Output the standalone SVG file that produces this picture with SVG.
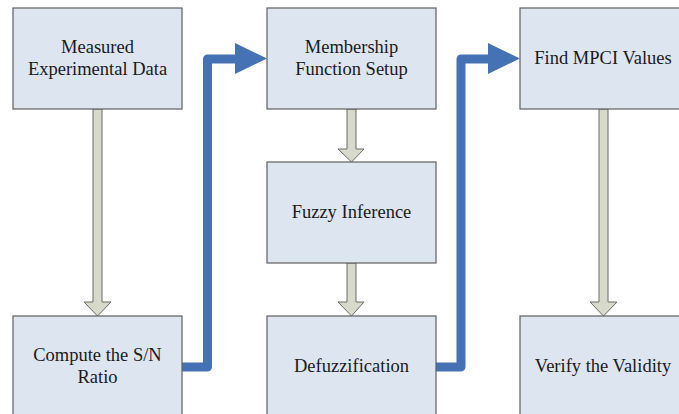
<svg xmlns="http://www.w3.org/2000/svg" width="679" height="414" viewBox="0 0 679 414">
<style>
.box{fill:#dde5f1;stroke:#5f5f5f;stroke-width:1.2}
.t{font-family:"Liberation Serif","Times New Roman",serif;font-size:18.5px;fill:#1a1a1a;text-anchor:middle}
.ga{fill:#d7dacb;stroke:#6a6a6a;stroke-width:1}
.bl{fill:none;stroke:#4572b4;stroke-width:9;stroke-linecap:round;stroke-linejoin:round}
.bh{fill:#4572b4}
</style>
<rect width="679" height="414" fill="#fff"/>
<g id="connectors">
<polygon class="ga" points="93,109 102,109 102,302 111,302 97.5,316 84,302 93,302"/>
<polygon class="ga" points="347,109 356,109 356,149 364,149 351.5,162 338,149 347,149"/>
<polygon class="ga" points="347,263 356,263 356,302 364,302 351.5,316 338,302 347,302"/>
<polygon class="ga" points="599,109 608,109 608,302 617,302 603.5,316 590,302 599,302"/>
<path class="bl" d="M183,367 H207.5 V59 H236"/>
<polygon class="bh" points="235,43 267,58.5 235,74"/>
<path class="bl" d="M437,367 H461 V59 H489"/>
<polygon class="bh" points="488,43 520,58.5 488,74"/>
</g>
<g id="n1"><rect class="box" x="13" y="8" width="169" height="101"/><text class="t" x="97.5" y="53">Measured</text><text class="t" x="97.5" y="75">Experimental Data</text></g>
<g id="n2"><rect class="box" x="267" y="8" width="169" height="101"/><text class="t" x="351.5" y="53">Membership</text><text class="t" x="351.5" y="75">Function Setup</text></g>
<g id="n3"><rect class="box" x="520" y="8" width="169" height="101"/><text class="t" x="603" y="64">Find MPCI Values</text></g>
<g id="n4"><rect class="box" x="267" y="162" width="169" height="101"/><text class="t" x="351.5" y="218">Fuzzy Inference</text></g>
<g id="n5"><rect class="box" x="13" y="316" width="169" height="110"/><text class="t" x="97.5" y="361">Compute the S/N</text><text class="t" x="97.5" y="383">Ratio</text></g>
<g id="n6"><rect class="box" x="267" y="316" width="169" height="110"/><text class="t" x="351.5" y="372">Defuzzification</text></g>
<g id="n7"><rect class="box" x="520" y="316" width="169" height="110"/><text class="t" x="603" y="372">Verify the Validity</text></g>
</svg>
